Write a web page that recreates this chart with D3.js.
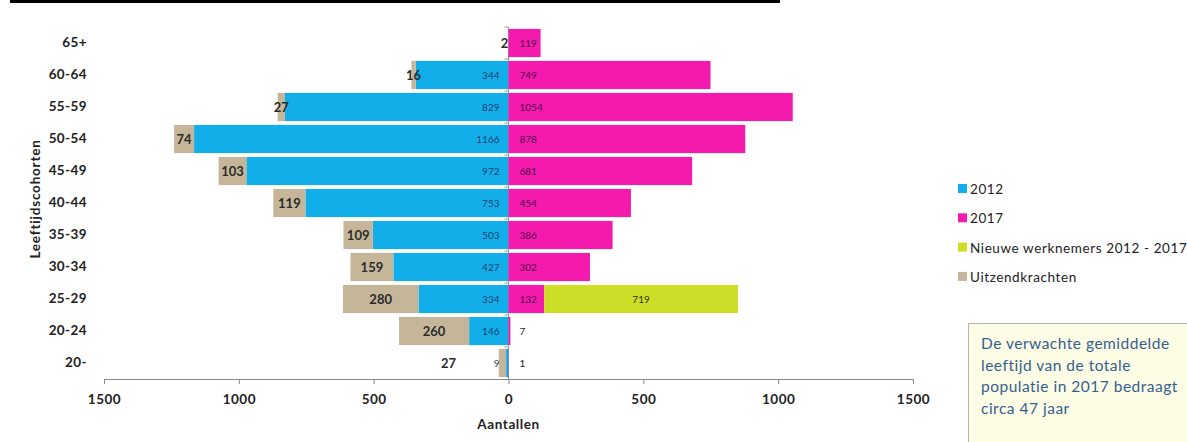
<!DOCTYPE html>
<html>
<head>
<meta charset="utf-8">
<script src="https://cdn.jsdelivr.net/npm/d3@7"></script>
<style>
  body { margin: 0; background: #fff; }
  svg { font-family: Lato, "Open Sans", sans-serif; }
</style>
</head>
<body>
<svg id="chart" width="1187" height="442"></svg>
<script>
// age cohorts, top to bottom
const cohorts = ["65+", "60-64", "55-59", "50-54", "45-49", "40-44", "35-39", "30-34", "25-29", "20-24", "20-"];
const staff2012 = [0, 344, 829, 1166, 972, 753, 503, 427, 334, 146, 9];
const temps = [2, 16, 27, 74, 103, 119, 109, 159, 280, 260, 27];
const staff2017 = [119, 749, 1054, 878, 681, 454, 386, 302, 132, 7, 1];
const newHires = [0, 0, 0, 0, 0, 0, 0, 0, 719, 0, 0];
const xTicks = [-1500, -1000, -500, 0, 500, 1000, 1500];
const legendLabels = ["2012", "2017", "Nieuwe werknemers 2012 - 2017", "Uitzendkrachten"];
const noteLines = ["De verwachte gemiddelde", "leeftijd van de totale", "populatie in 2017 bedraagt", "circa 47 jaar"];

const colors = {blue: "#12aeea", pink: "#f41aae", green: "#cddd28", tan: "#c5b699"};

const svg = d3.select("#chart");

// black rule at the very top
svg.append("rect").attr("x", 10).attr("y", 0).attr("width", 770).attr("height", 3).attr("fill", "#000");

const x = d3.scaleLinear().domain([-1500, 1500]).range([104, 913]);
const y = d3.scaleBand().domain(cohorts).range([27, 379]).paddingInner(0.12).paddingOuter(0.06);
const x0 = x(0);

const rows = cohorts.map((c, i) => ({
  cohort: c, s12: staff2012[i], tmp: temps[i], s17: staff2017[i], nw: newHires[i]
}));

// x axis
const xAxis = svg.append("g")
  .attr("transform", "translate(0,379)")
  .call(d3.axisBottom(x).tickValues(xTicks).tickFormat(d => Math.abs(d)).tickSize(5).tickSizeOuter(0).tickPadding(10))
  .attr("font-family", null);
xAxis.select(".domain").attr("stroke", "#888");
xAxis.selectAll(".tick line").attr("stroke", "#888");
xAxis.selectAll("text").attr("font-size", 13.5).attr("font-weight", "bold").attr("fill", "#222")
  .attr("letter-spacing", 0.5);

// center axis line with band ticks
svg.append("line").attr("x1", x0).attr("x2", x0).attr("y1", 27).attr("y2", 379).attr("stroke", "#999");
svg.selectAll(".ctick").data(cohorts).enter().append("line")
  .attr("x1", x0 - 4).attr("x2", x0)
  .attr("y1", d => y(d) - y.step() * y.paddingInner() / 2)
  .attr("y2", d => y(d) - y.step() * y.paddingInner() / 2)
  .attr("stroke", "#999");

// category labels
const yAxis = svg.append("g").attr("transform", "translate(89,0)")
  .call(d3.axisLeft(y).tickSize(0).tickPadding(2))
  .attr("font-family", null);
yAxis.select(".domain").remove();
yAxis.selectAll("text").attr("font-size", 13.5).attr("font-weight", "bold").attr("fill", "#222")
  .attr("letter-spacing", 0.4);

// bars
const bh = y.bandwidth();
const bars = svg.append("g");
rows.forEach(r => {
  const yy = y(r.cohort);
  if (r.s12 > 0) bars.append("rect").attr("x", x(-r.s12)).attr("y", yy).attr("width", x0 - x(-r.s12)).attr("height", bh).attr("fill", colors.blue);
  bars.append("rect").attr("x", x(-(r.s12 + r.tmp))).attr("y", yy).attr("width", x(-r.s12) - x(-(r.s12 + r.tmp))).attr("height", bh).attr("fill", colors.tan);
  bars.append("rect").attr("x", x0).attr("y", yy).attr("width", x(r.s17) - x0).attr("height", bh).attr("fill", colors.pink);
  if (r.nw > 0) bars.append("rect").attr("x", x(r.s17)).attr("y", yy).attr("width", x(r.s17 + r.nw) - x(r.s17)).attr("height", bh).attr("fill", colors.green);
});

// labels
const labels = svg.append("g");
rows.forEach(r => {
  const cy = y(r.cohort) + bh / 2 + 4;
  if (r.s12 > 0) {
    labels.append("text").attr("x", x0 - 9).attr("y", cy).attr("text-anchor", "end")
      .attr("font-size", 10).attr("fill", "#1c3f6b").text(r.s12);
  }
  let tx = (x(-r.s12) + x(-(r.s12 + r.tmp))) / 2;
  tx = Math.min(tx, x0 - 4);
  // tiny blue segment: its label sits where the temp label would go, so push it left
  if (r.s12 > 0 && x0 - x(-r.s12) < 20) tx = x0 - 60;
  labels.append("text").attr("x", tx).attr("y", cy + 1).attr("text-anchor", "middle")
    .attr("font-size", 13).attr("font-weight", "bold").attr("fill", "#2b2b2b").text(r.tmp);
  labels.append("text").attr("x", x0 + 11).attr("y", cy).attr("font-size", 10)
    .attr("fill", r.s17 > 40 ? "#4d0f46" : "#222").text(r.s17);
  if (r.nw > 0) {
    labels.append("text").attr("x", (x(r.s17) + x(r.s17 + r.nw)) / 2).attr("y", cy).attr("text-anchor", "middle")
      .attr("font-size", 10).attr("fill", "#2e3300").text(r.nw);
  }
});

// axis titles
svg.append("text").attr("x", x0).attr("y", 429).attr("text-anchor", "middle")
  .attr("font-size", 13.5).attr("font-weight", "bold").attr("fill", "#222").attr("letter-spacing", 0.6).text("Aantallen");
svg.append("text").attr("transform", "translate(40,199) rotate(-90)").attr("text-anchor", "middle")
  .attr("font-size", 13.5).attr("font-weight", "bold").attr("fill", "#222").attr("letter-spacing", 0.8).text("Leeftijdscohorten");

// legend
const legColors = [colors.blue, colors.pink, colors.green, colors.tan];
const leg = svg.append("g");
legendLabels.forEach((t, i) => {
  const ly = 189 + i * 29.3;
  leg.append("rect").attr("x", 958).attr("y", ly - 5).attr("width", 9).attr("height", 9).attr("fill", legColors[i]);
  leg.append("text").attr("x", 970).attr("y", ly + 5).attr("font-size", 13.5).attr("fill", "#222")
    .attr("letter-spacing", 0.6).text(t);
});

// note box
svg.append("rect").attr("x", 968.5).attr("y", 323.5).attr("width", 230).attr("height", 130)
  .attr("fill", "#fdfde6").attr("stroke", "#b5b5a8");
noteLines.forEach((t, i) => {
  svg.append("text").attr("x", 981).attr("y", 349 + i * 21.7).attr("font-size", 15.5)
    .attr("fill", "#35608e").attr("letter-spacing", 0.5).text(t);
});
</script>
</body>
</html>
